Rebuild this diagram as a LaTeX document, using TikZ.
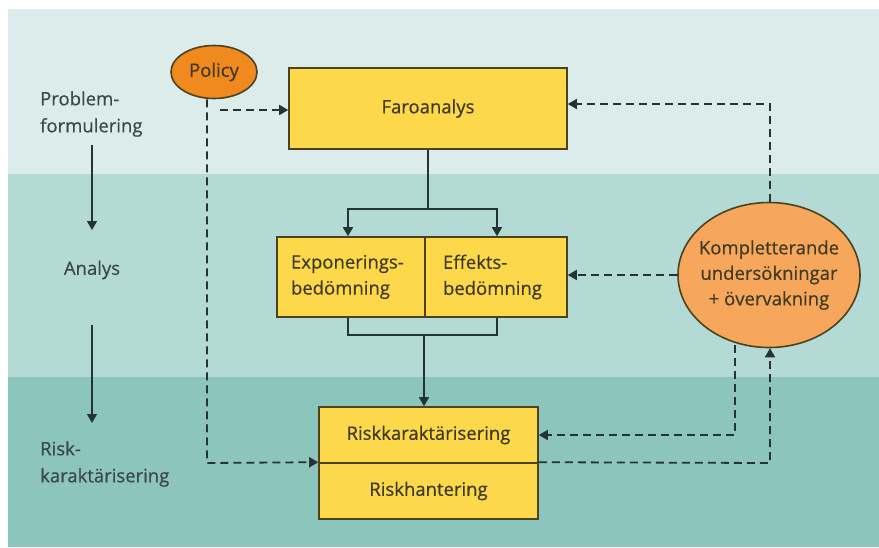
\documentclass[tikz,border=0pt]{standalone}
\usepackage{fontspec}
\setmainfont{Open Sans}[FakeBold=0.5]
\usetikzlibrary{arrows.meta,shapes.geometric}
\definecolor{bandA}{HTML}{DCECEA}
\definecolor{bandB}{HTML}{B3DAD4}
\definecolor{bandC}{HTML}{8BC5BC}
\definecolor{boxfill}{HTML}{FCD84A}
\definecolor{boxline}{HTML}{4A4220}
\definecolor{policyfill}{HTML}{F08A1E}
\definecolor{komfill}{HTML}{F7A75B}
\definecolor{txt}{HTML}{3E3A22}
\definecolor{sidetxt}{HTML}{3C4848}
\definecolor{linec}{HTML}{253333}
\tikzset{
  stepbox/.style={draw=boxline, line width=1.6pt, fill=boxfill, text=txt,
    font=\fontsize{18.5}{26}\selectfont, align=center, inner sep=0pt},
  twoline/.style={stepbox, align=left, inner xsep=#1, minimum height=80pt},
  oval/.style={ellipse, draw=boxline, line width=1.6pt, text=txt, inner sep=0pt,
    align=center},
  sidelabel/.style={text=sidetxt, font=\fontsize{18.5}{27}\selectfont, align=left,
    anchor=west, inner sep=0pt},
  flow/.style={draw=linec, line width=1.6pt, -{Triangle[width=10pt,length=9pt]}},
  solid line/.style={draw=linec, line width=1.6pt},
  feedback/.style={draw=linec, line width=1.8pt, dash pattern=on 8pt off 5pt,
    -{Triangle[width=10pt,length=9pt]}},
}
\begin{document}
\begin{tikzpicture}[x=1pt,y=-1pt]
% background bands
\fill[white] (0,0) rectangle (879,547);
\fill[bandA] (8,9) rectangle (879,174);
\fill[bandB] (8,174) rectangle (879,377);
\fill[bandC] (8,377) rectangle (879,547);
\useasboundingbox (0,0) rectangle (879,547);

% phase labels
\node[sidelabel] (pf) at (40,114) {Problem-\\formulering};
\node[sidelabel, anchor=center] (an) at (92,270) {Analys};
\node[sidelabel] (rk) at (40,464) {Risk-\\karaktärisering};
\coordinate (a1s) at (92,145);
\coordinate (a1e) at (92,230);
\coordinate (a2s) at (92,325);
\coordinate (a2e) at (92,423);
\draw[flow] (a1s) -- (a1e);
\draw[flow] (a2s) -- (a2e);

% boxes
\node[stepbox, minimum width=278pt, minimum height=81pt] (faro) at (428,108.5) {Faroanalys};
\node[twoline=14pt, text width=120pt] (expo) at (351,277)
  {Exponerings-\\bedömning};
\node[twoline=18pt, text width=106pt] (eff) at (496,277)
  {Effekts-\\bedömning};
\node[stepbox, minimum width=219pt, minimum height=56pt] (rkar) at (428.5,435) {Riskkaraktärisering};
\node[stepbox, minimum width=219pt, minimum height=56pt] (rhan) at (428.5,491) {Riskhantering};

% ovals
\node[oval, fill=policyfill, minimum width=86pt, minimum height=53pt,
  font=\fontsize{18.5}{22}\selectfont] (policy) at (214,72) {Policy};
\node[oval, fill=komfill, minimum width=182pt, minimum height=145pt,
  inner sep=-14pt, font=\fontsize{18.5}{25.5}\selectfont] (kom) at (769,275)
  {Kompletterande\\undersökningar\\+ övervakning};

% solid flow
\coordinate (split) at (faro.south |- 0,209);
\coordinate (sl) at (348,209);
\coordinate (sr) at (497,209);
\coordinate (jl) at (348,335);
\coordinate (jr) at (497,335);
\coordinate (jm) at (424,335);
\draw[solid line] (faro.south) -- (split);
\draw[flow] (split) -- (sl) -- (expo.north -| sl);
\draw[flow] (split) -- (sr) -- (eff.north -| sr);
\draw[solid line] (expo.south -| jl) -- (jl) -- (jr) -- (eff.south -| jr);
\draw[flow] (jm) -- (rkar.north -| jm);

% policy links
\coordinate (pv) at (207,463);
\coordinate (ph) at (220,110);
\draw[feedback] (policy.south -| pv) -- (pv) -- (rhan.north west);
\draw[feedback] (ph) -- (faro.west |- ph);

% monitoring feedback
\coordinate (kt) at (770,104);
\coordinate (kb1) at (735,435);
\coordinate (kb2) at (770,463);
\draw[feedback] (kom.north -| kt) -- (kt) -- (faro.east |- kt);
\draw[feedback] (kom.west) -- (eff.east |- kom.west);
\draw[feedback] (kom.south -| kb1) ++(0,-3) -- (kb1) -- (rkar.east);
\draw[feedback] (rhan.north east) -- (kb2) -- (kom.south -| kb2);
\end{tikzpicture}
\end{document}
